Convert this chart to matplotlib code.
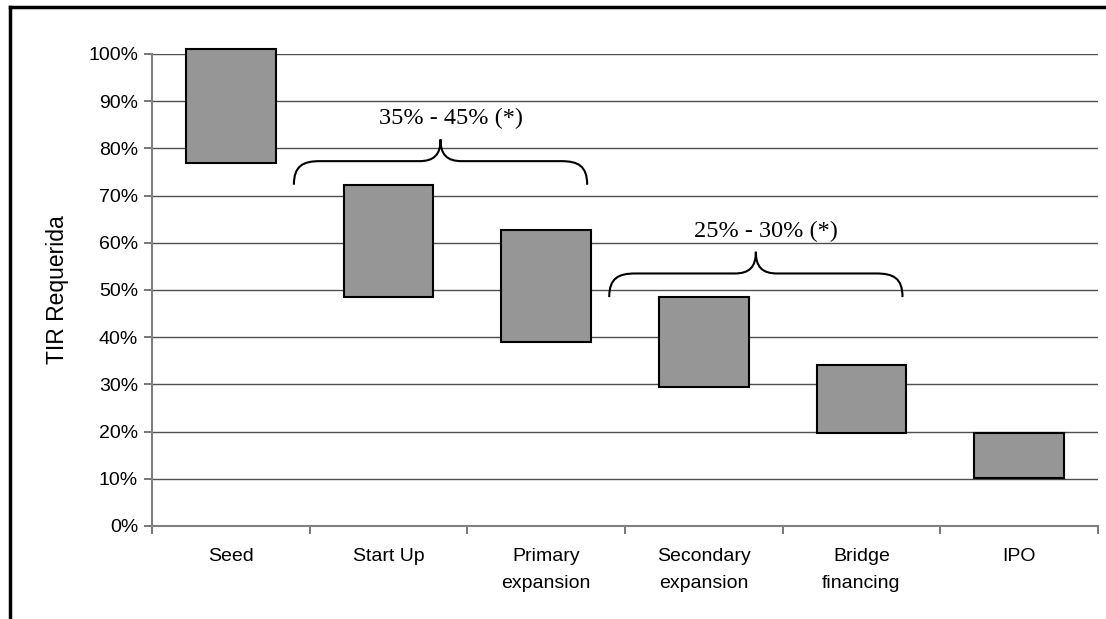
import numpy as np
import matplotlib
matplotlib.use("Agg")
import matplotlib.pyplot as plt
from matplotlib.path import Path
from matplotlib.patches import PathPatch
from matplotlib.ticker import PercentFormatter

# Required IRR range per financing stage (low, high), in %
stages = ["Seed", "Start Up", "Primary\nexpansion", "Secondary\nexpansion",
          "Bridge\nfinancing", "IPO"]
irr_low = [77.0, 48.5, 39.0, 29.4, 19.7, 10.1]
irr_high = [101.0, 72.3, 62.8, 48.5, 34.1, 19.7]

# grouped ranges shown with curly braces: (first stage, last stage, label)
groups = [(1, 2, "35% - 45% (*)"), (3, 4, "25% - 30% (*)")]

plt.rcParams["font.family"] = ["Liberation Sans", "DejaVu Sans"]

fig = plt.figure(figsize=(11.06, 6.19), dpi=100)
ax = fig.add_axes([152 / 1106, 93 / 619, 946 / 1106, 472 / 619])

x = np.arange(len(stages))
ax.bar(x, np.array(irr_high) - np.array(irr_low), bottom=irr_low, width=0.57,
       color="#969696", edgecolor="black", linewidth=1.5, zorder=3, clip_on=False)

ax.set_xlim(-0.5, len(stages) - 0.5)
ax.set_ylim(0, 100)
ax.set_yticks(np.arange(0, 101, 10))
ax.yaxis.set_major_formatter(PercentFormatter(decimals=0))
ax.set_xticks(x)
ax.set_xticklabels(stages, fontsize=14, linespacing=1.75)
ax.set_xticks(np.arange(-0.5, len(stages)), minor=True)
ax.tick_params(axis="x", which="major", length=0, pad=16)
ax.tick_params(axis="x", which="minor", length=6, width=1.2, color="#606060",
               direction="out")
ax.tick_params(axis="y", length=6, width=1.2, color="#606060", labelsize=14,
               pad=4)
ax.grid(axis="y", color="#505050", linewidth=1.0, zorder=0)
ax.set_axisbelow(True)
for side in ["top", "right"]:
    ax.spines[side].set_visible(False)
for side in ["left", "bottom"]:
    ax.spines[side].set_color("#808080")
    ax.spines[side].set_linewidth(1.5)
ax.set_ylabel("TIR Requerida", fontsize=16.5, labelpad=14)


def brace(ax, x0, x1, y_end, y_mid, y_peak, r_end=0.165, r_mid=0.135):
    xp = (x0 + x1) / 2
    verts = [
        (x0, y_end),
        (x0, y_mid - (y_mid - y_end) * 0.2), (x0 + r_end * 0.35, y_mid), (x0 + r_end, y_mid),
        (xp - r_mid, y_mid),
        (xp - r_mid * 0.3, y_mid), (xp, y_mid + (y_peak - y_mid) * 0.3), (xp, y_peak),
        (xp, y_mid + (y_peak - y_mid) * 0.3), (xp + r_mid * 0.3, y_mid), (xp + r_mid, y_mid),
        (x1 - r_end, y_mid),
        (x1 - r_end * 0.35, y_mid), (x1, y_mid - (y_mid - y_end) * 0.2), (x1, y_end),
    ]
    codes = [Path.MOVETO,
             Path.CURVE4, Path.CURVE4, Path.CURVE4,
             Path.LINETO,
             Path.CURVE4, Path.CURVE4, Path.CURVE4,
             Path.CURVE4, Path.CURVE4, Path.CURVE4,
             Path.LINETO,
             Path.CURVE4, Path.CURVE4, Path.CURVE4]
    ax.add_patch(PathPatch(Path(verts, codes), fill=False, edgecolor="black",
                           linewidth=1.5, zorder=4, clip_on=False))
    return xp


for first, last, label in groups:
    top = max(irr_high[first], irr_high[last])
    x0, x1 = first - 0.6, last + 0.26
    xp = brace(ax, x0, x1, top, top + 5, top + 9.6)
    ax.text(xp + 0.065, top + 14.0, label, ha="center", va="center",
            fontsize=17.5, family=["Liberation Serif", "DejaVu Serif"])

# outer chart frame (top and left edges)
fig.add_artist(plt.Line2D([10 / 1106, 1.0], [1 - 7 / 619, 1 - 7 / 619],
                          transform=fig.transFigure, color="black", linewidth=2.5))
fig.add_artist(plt.Line2D([10 / 1106, 10 / 1106], [0, 1 - 7 / 619],
                          transform=fig.transFigure, color="black", linewidth=2.5))

fig.savefig("out.png", dpi=100)
